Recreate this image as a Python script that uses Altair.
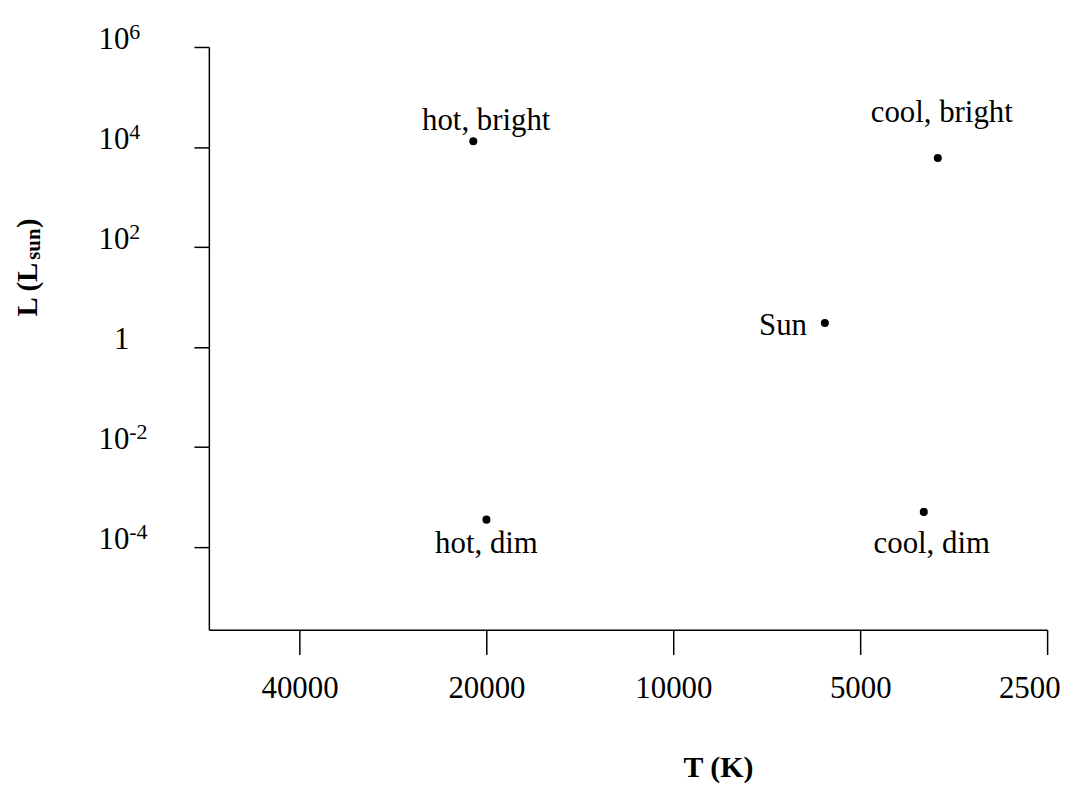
import altair as alt
import pandas as pd

# ---- data ----
names = ["hot, bright", "cool, bright", "Sun", "hot, dim", "cool, dim"]
temps = [21000, 3750, 5700, 20000, 3950]
lums = [1.3e4, 6000, 3, 3.5e-4, 5e-4]

x_ticks = [40000, 20000, 10000, 5000, 2500]
y_ticks = [1e6, 1e4, 1e2, 1, 1e-2, 1e-4]
y_base = ["10", "10", "10", "1", "10", "10"]
y_exp = ["6", "4", "2", "", "-2", "-4"]

x_title = "T (K)"
y_title_main = "L (L"
y_title_sub = "sun"
y_title_end = ")"

FONT = "Liberation Serif"

stars = pd.DataFrame({"name": names, "T": temps, "L": lums})
yt = pd.DataFrame({"v": y_ticks, "base": y_base, "exp": y_exp})

xscale = alt.Scale(type="log", domain=[2500, 56000], reverse=True, nice=False)
yscale = alt.Scale(type="log", domain=[2.2e-6, 1e6], nice=False)

xaxis = alt.Axis(values=x_ticks, format="d", grid=False, tickSize=25, labelPadding=19,
                 labelFont=FONT, labelFontSize=31, labelFlush=True, labelFlushOffset=13,
                 title=x_title, titleFont=FONT, titleFontSize=30, titleFontWeight="bold",
                 titleX=512, titleY=148, titleAlign="center", titleBaseline="alphabetic",
                 titleAngle=0)
yaxis = alt.Axis(values=y_ticks, grid=False, tickSize=15, labels=False, title=None)


def xenc(f):
    return alt.X(f, type="quantitative", scale=xscale, axis=xaxis)


def yenc(f):
    return alt.Y(f, type="quantitative", scale=yscale, axis=yaxis)


points = alt.Chart(stars).mark_circle(size=65, color="black", opacity=1).encode(
    x=xenc("T"), y=yenc("L"))

label_layers = []
styles = {
    "hot, bright": dict(align="center", dx=13, dy=-11),
    "cool, bright": dict(align="center", dx=4, dy=-36),
    "Sun": dict(align="right", dx=-18, dy=12),
    "hot, dim": dict(align="center", dx=0, dy=34),
    "cool, dim": dict(align="center", dx=8, dy=41),
}
for n in names:
    st = styles[n]
    label_layers.append(
        alt.Chart(stars).transform_filter(alt.datum.name == n).mark_text(
            font=FONT, fontSize=31, color="black", baseline="alphabetic", **st
        ).encode(x=xenc("T"), y=yenc("L"), text="name:N")
    )

ybase = alt.Chart(yt).mark_text(font=FONT, fontSize=31, color="black", align="right",
                                baseline="alphabetic", dy=2).encode(
    x=alt.value(-80), y=yenc("v"), text="base:N")
yexp = alt.Chart(yt).transform_filter(alt.datum.exp != "").mark_text(
    font=FONT, fontSize=22, color="black", align="left", baseline="alphabetic", dy=-8).encode(
    x=alt.value(-80), y=yenc("v"), text="exp:N")

one = pd.DataFrame({"a": [1]})
t1 = alt.Chart(one).mark_text(font=FONT, fontSize=29, fontWeight="bold", angle=270,
                              align="left", baseline="alphabetic", color="black").encode(
    x=alt.value(-173), y=alt.value(271), text=alt.value(y_title_main))
t2 = alt.Chart(one).mark_text(font=FONT, fontSize=21, fontWeight="bold", angle=270,
                              align="left", baseline="alphabetic", color="black").encode(
    x=alt.value(-170), y=alt.value(214), text=alt.value(y_title_sub))
t3 = alt.Chart(one).mark_text(font=FONT, fontSize=29, fontWeight="bold", angle=270,
                              align="left", baseline="alphabetic", color="black").encode(
    x=alt.value(-173), y=alt.value(182), text=alt.value(y_title_end))

chart = alt.layer(points, *label_layers, ybase, yexp, t1, t2, t3).properties(
    width=843, height=586,
    autosize=alt.AutoSizeParams(type="none"),
    padding={"left": 202, "top": 37, "right": 20, "bottom": 152},
    background="white",
).configure_view(stroke=None).configure_axis(
    domainColor="black", domainWidth=1.5, tickColor="black", tickWidth=1.5,
    labelColor="black", titleColor="black"
)

chart.save("out.html", embed_options={"renderer": "svg", "actions": False})
